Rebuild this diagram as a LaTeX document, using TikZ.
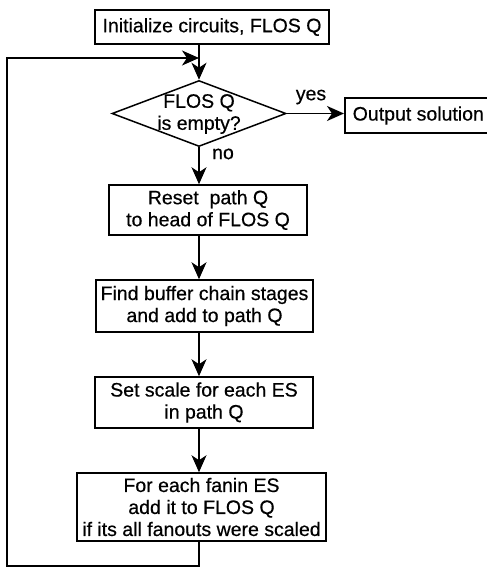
\documentclass[tikz,border=0pt]{standalone}
\usepackage{fontspec}
\setmainfont{Liberation Sans}
\newfontfamily\diafont{Liberation Sans}[FakeBold=0.5]
\usetikzlibrary{shapes.geometric,arrows.meta}
\tikzset{
  box/.style={draw, line width=1.5pt, inner sep=1pt, align=center, font=\diafont\fontsize{19.5}{22}\selectfont},
  dec/.style={draw, diamond, line width=1.5pt, inner sep=0pt},
  txt/.style={inner sep=0pt, align=center, font=\diafont\fontsize{19.5}{22}\selectfont},
  arr/.style={line width=1.5pt, -{Stealth[length=17pt, width=15pt, inset=5pt]}},
  ln/.style={line width=1.5pt}
}
\begin{document}
\begin{tikzpicture}[x=1pt,y=-1pt]
\useasboundingbox (0,0) rectangle (487,568);
\node[box, minimum width=234pt, minimum height=34pt] (init) at (212,27) {Initialize circuits, FLOS Q};
\node[dec, minimum width=174pt, minimum height=66pt] (dia) at (199,113.5) {};
\node[txt] (diatxt) at (199,114) {FLOS Q\\is empty?};
\node[box, anchor=west, inner xsep=8pt, minimum height=35pt] (out) at (344,115.5) {Output solution};
\node[box, minimum width=198pt, minimum height=50pt] (reset) at (208,210) {Reset\ \ path Q\\to head of FLOS Q};
\node[box, minimum width=217pt, minimum height=52pt] (find) at (204.5,306) {Find buffer chain stages\\and add to path Q};
\node[box, minimum width=218pt, minimum height=51pt] (set) at (204,402.5) {Set scale for each ES\\in path Q};
\node[box, minimum width=249pt, minimum height=68pt] (fanin) at (201.5,507) {For each fanin ES\\add it to FLOS Q\\if its all fanouts were scaled};
\node[txt] (yes) at (311,97) {yes};
\node[txt] (no) at (223,154) {no};
\coordinate (c1) at (199,566);
\coordinate (c2) at (7,566);
\coordinate (c3) at (7,58);
\coordinate (c4) at (199,58);
\draw[arr] (init.south -| dia.north) -- (dia.north);
\draw[arr] (dia.east) -- (dia.east -| out.west);
\draw[arr] (dia.south) -- (reset.north -| dia.south);
\draw[arr] (reset.south -| dia.south) -- (find.north -| dia.south);
\draw[arr] (find.south -| dia.south) -- (set.north -| dia.south);
\draw[arr] (set.south -| dia.south) -- (fanin.north -| dia.south);
\draw[arr] (fanin.south -| dia.south) -- (c1) -- (c2) -- (c3) -- (c4);
\end{tikzpicture}
\end{document}
